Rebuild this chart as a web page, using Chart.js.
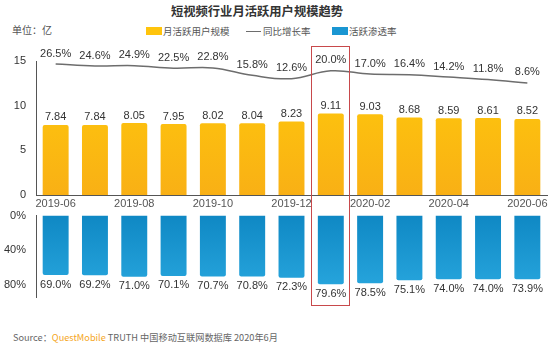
<!DOCTYPE html>
<html><head><meta charset="utf-8">
<script src="https://cdn.jsdelivr.net/npm/chart.js@4/dist/chart.umd.min.js"></script>
<style>
html,body{margin:0;padding:0;background:#fff;}
body{width:554px;height:345px;position:relative;overflow:hidden;font-family:"Liberation Sans","Noto Sans CJK SC",sans-serif;}
#title{position:absolute;left:0;width:514px;top:2px;text-align:center;font:bold 12.3px "Noto Sans CJK SC",sans-serif;color:#333;}
#unit{position:absolute;left:12px;top:22px;font:10px "Noto Sans CJK SC",sans-serif;color:#555;}
.lg{position:absolute;top:24px;font:9.5px "Noto Sans CJK SC",sans-serif;color:#555;white-space:nowrap;}
.box{display:inline-block;width:16px;height:8px;vertical-align:middle;margin-right:1px;position:relative;top:-1px;}
.ln{display:inline-block;width:15px;height:0;border-top:1.5px solid #6d6d6d;vertical-align:middle;margin-right:2px;position:relative;top:-1px;}
#top{position:absolute;left:0;top:0;width:554px;height:215px;}
#bot{position:absolute;left:0;top:200px;width:554px;height:115px;}
#hl{position:absolute;border:1.3px solid #c8494b;box-sizing:border-box;pointer-events:none;}
#src{position:absolute;left:13px;top:330px;font:9.2px "Noto Sans CJK SC",sans-serif;color:#666;white-space:nowrap;}
#src b{font-weight:normal;color:#f5a623;}
</style></head>
<body>
<div id="title">短视频行业月活跃用户规模趋势</div>
<div id="unit">单位：亿</div>
<div class="lg" style="left:146px"><span class="box" style="background:#ffc40c"></span>月活跃用户规模</div>
<div class="lg" style="left:246px"><span class="ln"></span>同比增长率</div>
<div class="lg" style="left:332px"><span class="box" style="background:#1a96d2"></span>活跃渗透率</div>
<div id="top"><canvas id="c1"></canvas></div>
<div id="bot"><canvas id="c2"></canvas></div>
<div id="hl"></div>
<div id="src">Source：<b>QuestMobile</b> TRUTH 中国移动互联网数据库 2020年6月</div>
<script>
const categories = ["2019-06","2019-07","2019-08","2019-09","2019-10","2019-11","2019-12","2020-01","2020-02","2020-03","2020-04","2020-05","2020-06"];
const mau = [7.84,7.84,8.05,7.95,8.02,8.04,8.23,9.11,9.03,8.68,8.59,8.61,8.52];
const yoy = [26.5,24.6,24.9,22.5,22.8,15.8,12.6,20.0,17.0,16.4,14.2,11.8,8.6];
const penetration = [69.0,69.2,71.0,70.1,70.7,70.8,72.3,79.6,78.5,75.1,74.0,74.0,73.9];
const highlightIndex = 7;

const tickFont = {family:"Liberation Sans", size:11};
const labelColor = '#333';

function vGrad(ctx, c1, c2){
  const ch = ctx.chart; const a = ch.chartArea;
  if(!a) return c1;
  const g = ch.ctx.createLinearGradient(0, a.top, 0, a.bottom);
  g.addColorStop(0, c1); g.addColorStop(1, c2);
  return g;
}

const topLabels = {
  id:'topLabels',
  afterDatasetsDraw(chart){
    const ctx = chart.ctx;
    ctx.save();
    ctx.font = '11px "Liberation Sans"';
    ctx.fillStyle = labelColor;
    ctx.textAlign = 'center';
    ctx.textBaseline = 'bottom';
    chart.getDatasetMeta(0).data.forEach((b,i)=>{
      ctx.fillText(mau[i].toFixed(2), b.x, b.y - 2);
    });
    chart.getDatasetMeta(1).data.forEach((p,i)=>{
      ctx.fillText(yoy[i].toFixed(1)+'%', p.x, p.y - 5);
    });
    ctx.restore();
  }
};

const c1 = new Chart(document.getElementById('c1'), {
  data:{
    labels: categories,
    datasets:[
      {type:'bar', data:mau, yAxisID:'y', order:2,
       backgroundColor:(ctx)=>vGrad(ctx,'#ffcb0a','#f9b015'),
       barPercentage:0.66, categoryPercentage:1, borderRadius:{topLeft:2,topRight:2}, borderSkipped:'bottom'},
      {type:'line', data:yoy, yAxisID:'y2', order:1,
       borderColor:'#6d6d6d', borderWidth:1.5, pointRadius:0, tension:0.4, fill:false}
    ]
  },
  options:{
    responsive:true, maintainAspectRatio:false, animation:false,
    layout:{padding:{top:61,right:7,left:0,bottom:0}},
    plugins:{legend:{display:false}, tooltip:{enabled:false}},
    scales:{
      x:{
        grid:{display:false, drawTicks:false},
        border:{display:true, color:'#555', width:1},
        ticks:{autoSkip:false, maxRotation:0, padding:2, font:tickFont, color:'#555',
          callback:function(v,i){ return i%2===0 ? categories[i] : ''; }},
        afterFit:(s)=>{ s.height = 20; }
      },
      y:{
        min:0, max:15,
        grid:{display:false, drawTicks:false},
        border:{display:true, color:'#555', width:1},
        ticks:{stepSize:5, padding:10, font:tickFont, color:'#333'},
        afterFit:(s)=>{ s.width = 36; }
      },
      y2:{display:false, min:-97, max:29.3}
    }
  },
  plugins:[topLabels]
});

const botLabels = {
  id:'botLabels',
  afterDatasetsDraw(chart){
    const ctx = chart.ctx;
    ctx.save();
    ctx.font = '11px "Liberation Sans"';
    ctx.fillStyle = labelColor;
    ctx.textAlign = 'center';
    ctx.textBaseline = 'top';
    chart.getDatasetMeta(0).data.forEach((b,i)=>{
      ctx.fillText(penetration[i].toFixed(1)+'%', b.x, b.y + 4);
    });
    ctx.restore();
  }
};

const c2 = new Chart(document.getElementById('c2'), {
  type:'bar',
  data:{
    labels: categories,
    datasets:[
      {data:penetration,
       backgroundColor:(ctx)=>vGrad(ctx,'#0f88c4','#2aa9e0'),
       barPercentage:0.66, categoryPercentage:1, borderRadius:{bottomLeft:2,bottomRight:2}, borderSkipped:'start'}
    ]
  },
  options:{
    responsive:true, maintainAspectRatio:false, animation:false,
    layout:{padding:{top:0,right:7,left:0,bottom:17}},
    plugins:{legend:{display:false}, tooltip:{enabled:false}},
    scales:{
      x:{display:false},
      y:{
        min:0, max:95, reverse:true,
        grid:{display:false, drawTicks:false},
        border:{display:true, color:'#555', width:1},
        ticks:{padding:10, font:tickFont, color:'#333', callback:(v)=>v+'%'},
        afterBuildTicks:(s)=>{ s.ticks = [0,40,80].map(v=>({value:v})); },
        afterFit:(s)=>{ s.width = 36; }
      }
    }
  },
  plugins:[botLabels]
});

// place each plot area where the reference has it (page coordinates)
function placeArea(chart, div, pageTop, pageBottom){
  for(let k=0;k<4;k++){
    const a = chart.chartArea;
    const divTop = parseFloat(div.style.top || getComputedStyle(div).top);
    const nowTop = divTop + a.top, nowBottom = divTop + a.bottom;
    const dt = pageTop - nowTop;
    div.style.top = (divTop + dt) + 'px';
    const db = (nowBottom + dt) - pageBottom;
    if(Math.abs(db) < 0.5) break;
    chart.options.layout.padding.bottom = Math.max(0, chart.options.layout.padding.bottom + db);
    chart.update();
  }
}
placeArea(c1, document.getElementById('top'), 61, 195);
placeArea(c2, document.getElementById('bot'), 216, 298);

// highlight box around the highlighted month, positioned from the scale
(function(){
  const xs = c1.scales.x;
  const half = (xs.getPixelForValue(1) - xs.getPixelForValue(0)) / 2;
  const cx = xs.getPixelForValue(highlightIndex);
  const hl = document.getElementById('hl');
  hl.style.left = (cx - half) + 'px';
  hl.style.width = (2*half) + 'px';
  hl.style.top = '46px';
  hl.style.height = (306-46) + 'px';
})();
</script>
</body></html>
